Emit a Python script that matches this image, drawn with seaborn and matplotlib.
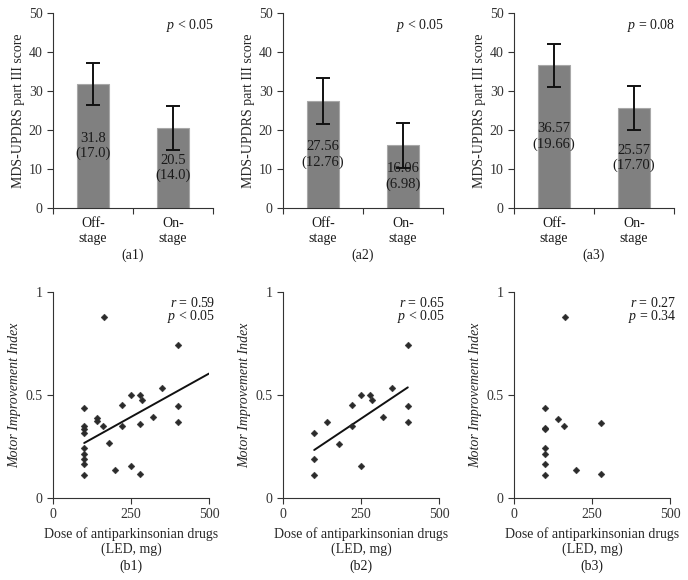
import matplotlib
matplotlib.use("Agg")

import matplotlib.pyplot as plt
import numpy as np
import pandas as pd
import seaborn as sns

# ---- data ----
stages = ["Off-\nstage", "On-\nstage"]
a1_means = [31.8, 20.5]
a1_sd = ["(17.0)", "(14.0)"]
a1_err = [5.5, 5.75]
a2_means = [27.56, 16.06]
a2_sd = ["(12.76)", "(6.98)"]
a2_err = [5.9, 5.7]
a3_means = [36.57, 25.57]
a3_sd = ["(19.66)", "(17.70)"]
a3_err = [5.5, 5.6]
a_pvals = ["$p$ < 0.05", "$p$ < 0.05", "$p$ = 0.08"]
a_tags = ["(a1)", "(a2)", "(a3)"]

b1_dose = [100, 100, 100, 100, 100, 100, 100, 100, 100, 140, 140, 160, 165, 180,
           200, 220, 220, 250, 250, 280, 280, 285, 280, 320, 350, 400, 400, 400]
b1_mii = [0.438, 0.348, 0.337, 0.316, 0.243, 0.215, 0.189, 0.165, 0.110, 0.387,
          0.372, 0.351, 0.879, 0.265, 0.138, 0.450, 0.351, 0.502, 0.157, 0.361,
          0.502, 0.474, 0.118, 0.395, 0.534, 0.741, 0.447, 0.367]
b1_fit_x = [100, 500]
b1_fit_y = [0.267, 0.604]

b2_dose = [100, 100, 100, 140, 180, 220, 220, 250, 250, 280, 285, 320, 350, 400, 400, 400]
b2_mii = [0.316, 0.191, 0.110, 0.369, 0.264, 0.450, 0.351, 0.502, 0.157, 0.502,
          0.474, 0.395, 0.534, 0.741, 0.447, 0.367]
b2_fit_x = [100, 400]
b2_fit_y = [0.233, 0.537]

b3_dose = [100, 100, 100, 100, 100, 100, 100, 140, 160, 165, 200, 280, 280]
b3_mii = [0.438, 0.340, 0.333, 0.243, 0.214, 0.167, 0.110, 0.385, 0.351, 0.879,
          0.138, 0.362, 0.118]

b_stats = [("$r$ = 0.59", "$p$ < 0.05"), ("$r$ = 0.65", "$p$ < 0.05"), ("$r$ = 0.27", "$p$ = 0.34")]
b_tags = ["(b1)", "(b2)", "(b3)"]

sns.set_style("ticks")
plt.rcParams["font.family"] = ["Liberation Serif", "DejaVu Serif"]
plt.rcParams["mathtext.fontset"] = "custom"
plt.rcParams["mathtext.rm"] = "Liberation Serif"
plt.rcParams["mathtext.it"] = "Liberation Serif:italic"
plt.rcParams["axes.edgecolor"] = "#333333"
plt.rcParams["xtick.color"] = "#333333"
plt.rcParams["ytick.color"] = "#333333"
plt.rcParams["text.color"] = "#1a1a1a"

W, H = 688, 580
fig = plt.figure(figsize=(W / 100, H / 100), dpi=100)
lefts = [53, 283, 514]


def px_axes(left, top, width, height):
    return fig.add_axes([left / W, 1 - (top + height) / H, width / W, height / H])


bar_sets = [(a1_means, a1_sd, a1_err), (a2_means, a2_sd, a2_err), (a3_means, a3_sd, a3_err)]
for i, (means, sds, errs) in enumerate(bar_sets):
    ax = px_axes(lefts[i], 13, 160, 195)
    df = pd.DataFrame({"stage": stages, "score": means})
    sns.barplot(data=df, x="stage", y="score", color="#808080", width=0.4,
                edgecolor="#a8a8a8", linewidth=0.8, saturation=1, ax=ax)
    for j, (m, s) in enumerate(zip(means, sds)):
        ax.text(j, m / 2, f"{m:g}\n{s}" if i != 1 else f"{m:.2f}\n{s}",
                ha="center", va="center", fontsize=10.5, linespacing=1.2, zorder=3)
    ax.errorbar(range(len(means)), means, yerr=errs, fmt="none", ecolor="#111111",
                elinewidth=1.4, capsize=5, capthick=1.4, zorder=4)
    ax.set_xlim(-0.5, 1.5)
    ax.set_ylim(0, 50)
    ax.set_yticks(range(0, 51, 10))
    ax.set_xticks([-0.5, 0.5, 1.5])
    ax.set_xticklabels([])
    for j, lab in enumerate(stages):
        ax.annotate(lab, xy=(j, 0), xycoords=("data", "axes fraction"),
                    xytext=(0, -9), textcoords="offset pixels",
                    ha="center", va="top", fontsize=10, linespacing=1.2)
    ax.set_xlabel("")
    ax.set_ylabel("MDS-UPDRS part III score", fontsize=10, labelpad=3)
    ax.tick_params(axis="both", labelsize=10, length=4, width=0.8)
    ax.text(1.01, 0.938, a_pvals[i], transform=ax.transAxes, ha="right", va="center", fontsize=10)
    ax.annotate(a_tags[i], xy=(0.5, 0), xycoords="axes fraction", xytext=(0, -47),
                textcoords="offset pixels", ha="center", va="center", fontsize=10)
    sns.despine(ax=ax)

scatter_sets = [(b1_dose, b1_mii, b1_fit_x, b1_fit_y), (b2_dose, b2_mii, b2_fit_x, b2_fit_y),
                (b3_dose, b3_mii, None, None)]
for i, (dose, mii, fx, fy) in enumerate(scatter_sets):
    ax = px_axes(lefts[i], 292, 156, 206)
    sns.scatterplot(x=dose, y=mii, marker="D", s=12, color="#2b2b2b", edgecolor="#2b2b2b",
                    linewidth=0.3, ax=ax, zorder=3)
    if fx is not None:
        ax.plot(fx, fy, color="#111111", lw=1.4, zorder=2)
    ax.set_xlim(0, 500)
    ax.set_ylim(0, 1)
    ax.set_xticks([0, 250, 500])
    ax.set_yticks([0, 0.5, 1])
    ax.set_yticklabels(["0", "0.5", "1"])
    ax.tick_params(axis="both", labelsize=10, length=4, width=0.8)
    ax.set_xlabel("Dose of antiparkinsonian drugs\n(LED, mg)", fontsize=10, linespacing=1.2, labelpad=4)
    ax.set_ylabel("Motor Improvement Index", fontsize=10, fontstyle="italic", labelpad=3)
    r_txt, p_txt = b_stats[i]
    ax.text(1.04, 0.948, r_txt, transform=ax.transAxes, ha="right", va="center", fontsize=10)
    ax.text(1.04, 0.88, p_txt, transform=ax.transAxes, ha="right", va="center", fontsize=10)
    ax.annotate(b_tags[i], xy=(0.5, 0), xycoords="axes fraction", xytext=(0, -68),
                textcoords="offset pixels", ha="center", va="center", fontsize=10)
    sns.despine(ax=ax)

fig.savefig("out.png", dpi=100)
